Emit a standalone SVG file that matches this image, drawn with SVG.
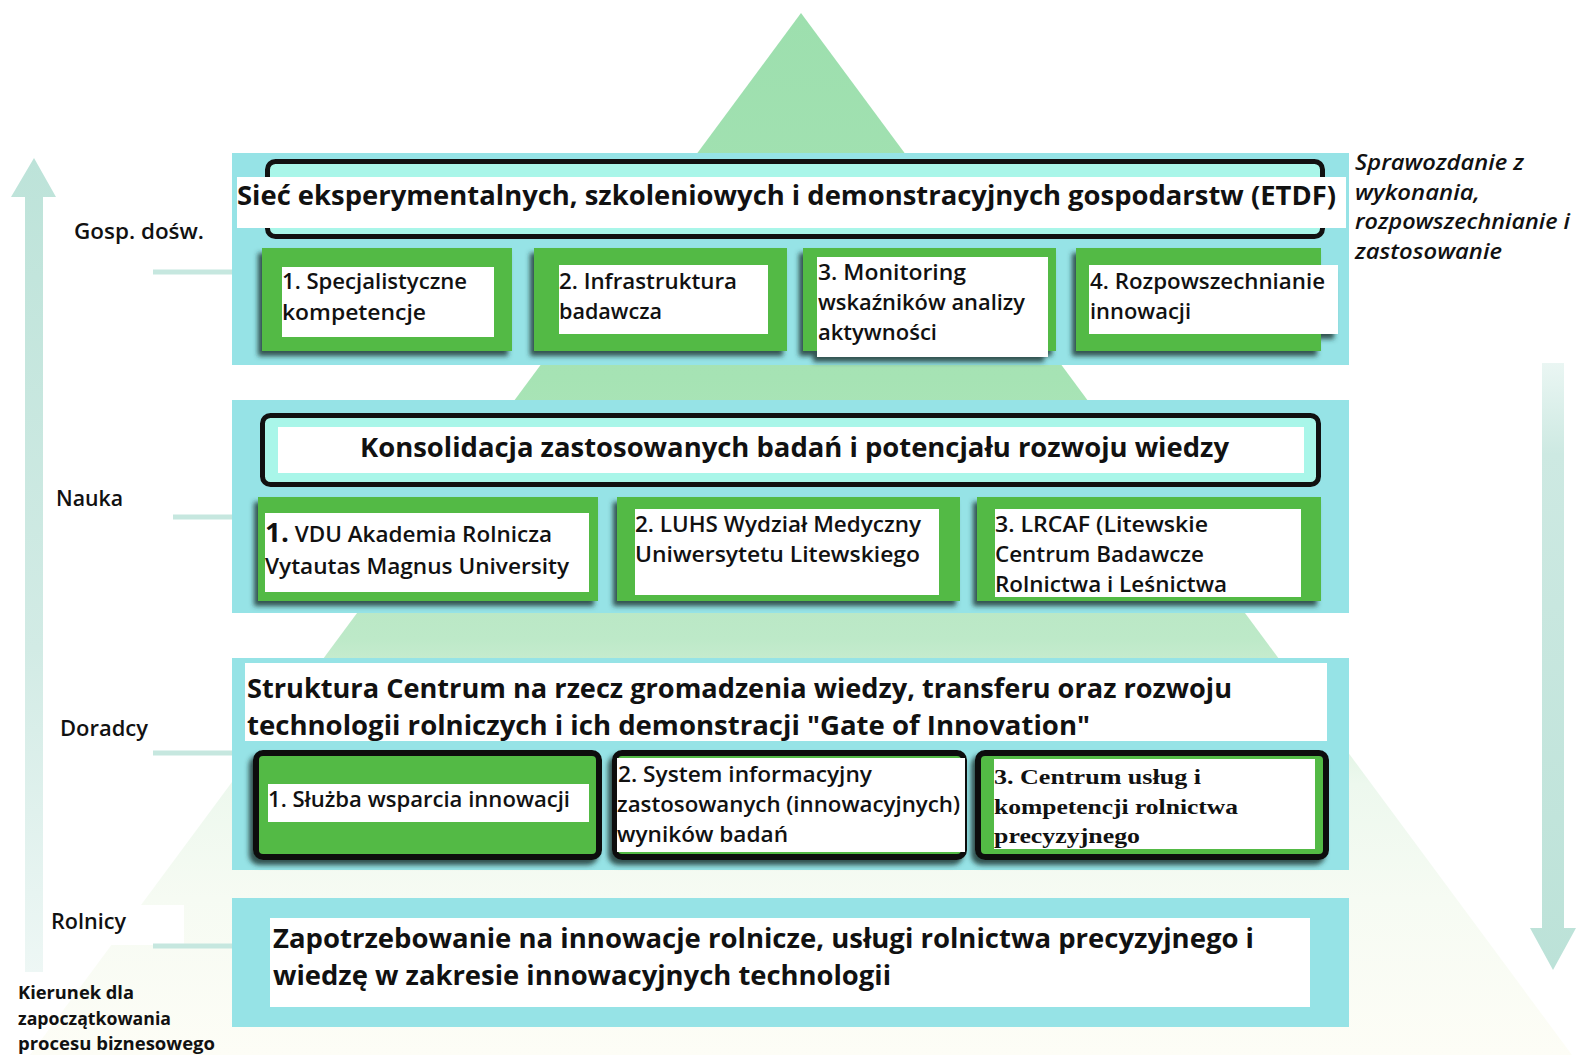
<svg xmlns="http://www.w3.org/2000/svg" width="1579" height="1055" viewBox="0 0 1579 1055">
<defs>
<linearGradient id="pyr" gradientUnits="userSpaceOnUse" x1="0" y1="13" x2="0" y2="1055">
<stop offset="0" stop-color="#9ddfae"/>
<stop offset="0.35" stop-color="#a6e3b4"/>
<stop offset="0.6" stop-color="#bde9c8"/>
<stop offset="0.66" stop-color="#d5f0da"/>
<stop offset="0.74" stop-color="#edf8ee"/>
<stop offset="0.85" stop-color="#f6fbf3"/>
<stop offset="1" stop-color="#fdfdf6"/>
</linearGradient>
<linearGradient id="upArr" gradientUnits="userSpaceOnUse" x1="0" y1="158" x2="0" y2="975">
<stop offset="0" stop-color="#bde3d9"/>
<stop offset="0.6" stop-color="#d2ebe5"/>
<stop offset="1" stop-color="#eef7f5"/>
</linearGradient>
<linearGradient id="dnArr" gradientUnits="userSpaceOnUse" x1="0" y1="363" x2="0" y2="970">
<stop offset="0" stop-color="#eaf6f3"/>
<stop offset="0.15" stop-color="#cde9e2"/>
<stop offset="1" stop-color="#bce2d8"/>
</linearGradient>
<filter id="sh" x="-10%" y="-10%" width="120%" height="130%">
<feDropShadow dx="-4" dy="5" stdDeviation="2.5" flood-color="#1c3a34" flood-opacity="0.85"/>
</filter>
<style>
.band{fill:#96e3e6}
.mint{fill:#a9f6e9;stroke:#111;stroke-width:5}
.green{fill:#52ba45}
.gbox{fill:#52ba45;stroke:#111;stroke-width:6}
.white{fill:#fff}
.conn{stroke:#c6e7df;stroke-width:5;fill:none}
text{font-family:"Open Sans","Noto Sans","Liberation Sans",sans-serif;fill:#111}
.tt{font-size:26px;font-weight:bold}
.tn{font-size:21px;font-weight:600}
.lab{font-size:21px;font-weight:600}
.sm{font-size:17px;font-weight:bold}
.it{font-size:21px;font-style:italic;font-weight:600}
.sr{font-family:"Liberation Serif","Times New Roman",serif;font-size:22px;font-weight:bold}
</style>
</defs>
<rect width="1579" height="1055" fill="#fff"/>
<polygon id="pyramid" points="801,13 1572,1055 30,1055" fill="url(#pyr)"/>

<g id="connectors">
<polygon id="arrow-up" points="34,158 56,197 43,197 43,972 25,972 25,197 11,197" fill="url(#upArr)"/>
<polygon id="arrow-down" points="1542,363 1564,363 1564,928 1576,928 1553,970 1530,928 1542,928" fill="url(#dnArr)"/>
<line class="conn" x1="153" y1="272" x2="232" y2="272"/>
<line class="conn" x1="173" y1="517" x2="232" y2="517"/>
<line class="conn" x1="153" y1="753" x2="232" y2="753"/>
<rect x="46" y="905" width="138" height="40" fill="#fff"/>
<line class="conn" x1="153" y1="946" x2="232" y2="946"/>
</g>

<g id="labels">
<text class="lab" x="74" y="239" textLength="130" lengthAdjust="spacingAndGlyphs">Gosp. dośw.</text>
<text class="lab" x="56" y="506" textLength="67" lengthAdjust="spacingAndGlyphs">Nauka</text>
<text class="lab" x="60" y="736" textLength="88" lengthAdjust="spacingAndGlyphs">Doradcy</text>
<text class="lab" x="51" y="929" textLength="75" lengthAdjust="spacingAndGlyphs">Rolnicy</text>
<text class="sm" x="18" y="999" textLength="116" lengthAdjust="spacingAndGlyphs">Kierunek dla</text>
<text class="sm" x="18" y="1025" textLength="153" lengthAdjust="spacingAndGlyphs">zapoczątkowania</text>
<text class="sm" x="18" y="1050" textLength="197" lengthAdjust="spacingAndGlyphs">procesu biznesowego</text>
<text class="it" x="1355" y="170" textLength="169" lengthAdjust="spacingAndGlyphs">Sprawozdanie z</text>
<text class="it" x="1355" y="200" textLength="125" lengthAdjust="spacingAndGlyphs">wykonania,</text>
<text class="it" x="1355" y="229" textLength="215" lengthAdjust="spacingAndGlyphs">rozpowszechnianie i</text>
<text class="it" x="1355" y="259" textLength="147" lengthAdjust="spacingAndGlyphs">zastosowanie</text>
</g>

<g id="level-gosp">
<rect class="band" x="232" y="153" width="1117" height="212"/>
<g id="etdf">
<rect class="mint" x="267.5" y="161.5" width="1055" height="75" rx="8"/>
<rect class="white" x="237" y="177" width="1109" height="51"/>
<text class="tt" x="237" y="205" textLength="1099" lengthAdjust="spacingAndGlyphs">Sieć eksperymentalnych, szkoleniowych i demonstracyjnych gospodarstw (ETDF)</text>
</g>
<g id="g1" filter="url(#sh)"><rect class="green" x="262" y="248" width="250" height="103"/><rect class="white" x="282" y="267" width="212" height="70"/></g>
<text class="tn" x="282" y="289" textLength="185" lengthAdjust="spacingAndGlyphs">1. Specjalistyczne</text>
<text class="tn" x="282" y="320" textLength="144" lengthAdjust="spacingAndGlyphs">kompetencje</text>
<g id="g2" filter="url(#sh)"><rect class="green" x="534" y="248" width="253" height="103"/><rect class="white" x="559" y="265" width="209" height="69"/></g>
<text class="tn" x="559" y="289" textLength="178" lengthAdjust="spacingAndGlyphs">2. Infrastruktura</text>
<text class="tn" x="559" y="319" textLength="103" lengthAdjust="spacingAndGlyphs">badawcza</text>
<g id="g3" filter="url(#sh)"><rect class="green" x="803" y="248" width="253" height="103"/><rect class="white" x="817" y="257" width="231" height="100"/></g>
<text class="tn" x="818" y="280" textLength="148" lengthAdjust="spacingAndGlyphs">3. Monitoring</text>
<text class="tn" x="818" y="310" textLength="207" lengthAdjust="spacingAndGlyphs">wskaźników analizy</text>
<text class="tn" x="818" y="340" textLength="119" lengthAdjust="spacingAndGlyphs">aktywności</text>
<g id="g4" filter="url(#sh)"><rect class="green" x="1076" y="248" width="245" height="103"/><rect class="white" x="1089" y="265" width="249" height="69"/></g>
<text class="tn" x="1090" y="289" textLength="235" lengthAdjust="spacingAndGlyphs">4. Rozpowszechnianie</text>
<text class="tn" x="1090" y="319" textLength="101" lengthAdjust="spacingAndGlyphs">innowacji</text>
</g>

<g id="level-nauka">
<rect class="band" x="232" y="400" width="1117" height="213"/>
<g id="konsolidacja">
<rect class="mint" x="262.5" y="415.5" width="1056" height="69" rx="8"/>
<rect class="white" x="278" y="427" width="1026" height="46"/>
<text class="tt" x="360" y="457" textLength="869" lengthAdjust="spacingAndGlyphs">Konsolidacja zastosowanych badań i potencjału rozwoju wiedzy</text>
</g>
<g id="n1" filter="url(#sh)"><rect class="green" x="258" y="497" width="340" height="104"/><rect class="white" x="265" y="513" width="324" height="79"/></g>
<text class="tn" x="265" y="542" textLength="287" lengthAdjust="spacingAndGlyphs"><tspan font-weight="bold" font-size="26px">1.</tspan> VDU Akademia Rolnicza</text>
<text class="tn" x="265" y="574" textLength="304" lengthAdjust="spacingAndGlyphs">Vytautas Magnus University</text>
<g id="n2" filter="url(#sh)"><rect class="green" x="617" y="497" width="343" height="104"/><rect class="white" x="635" y="509" width="304" height="86"/></g>
<text class="tn" x="635" y="532" textLength="286" lengthAdjust="spacingAndGlyphs">2. LUHS Wydział Medyczny</text>
<text class="tn" x="635" y="562" textLength="285" lengthAdjust="spacingAndGlyphs">Uniwersytetu Litewskiego</text>
<g id="n3" filter="url(#sh)"><rect class="green" x="977" y="497" width="344" height="104"/><rect class="white" x="995" y="509" width="306" height="88"/></g>
<text class="tn" x="995" y="532" textLength="213" lengthAdjust="spacingAndGlyphs">3. LRCAF (Litewskie</text>
<text class="tn" x="995" y="562" textLength="209" lengthAdjust="spacingAndGlyphs">Centrum Badawcze</text>
<text class="tn" x="995" y="592" textLength="232" lengthAdjust="spacingAndGlyphs">Rolnictwa i Leśnictwa</text>
</g>

<g id="level-doradcy">
<rect class="band" x="232" y="658" width="1117" height="212"/>
<g id="gate">
<rect class="white" x="245" y="663" width="1082" height="78"/>
<text class="tt" x="247" y="698" textLength="985" lengthAdjust="spacingAndGlyphs">Struktura Centrum na rzecz gromadzenia wiedzy, transferu oraz rozwoju</text>
<text class="tt" x="247" y="735" textLength="843" lengthAdjust="spacingAndGlyphs">technologii rolniczych i ich demonstracji "Gate of Innovation"</text>
</g>
<g id="d1" filter="url(#sh)"><rect class="gbox" x="256" y="753" width="343" height="104" rx="7"/><rect class="white" x="268" y="784" width="321" height="38"/></g>
<text class="tn" x="268" y="807" textLength="302" lengthAdjust="spacingAndGlyphs">1. Służba wsparcia innowacji</text>
<g id="d2" filter="url(#sh)"><rect class="gbox" x="615" y="753" width="349" height="104" rx="7"/><rect class="white" x="617" y="758" width="348" height="94"/></g>
<text class="tn" x="618" y="782" textLength="254" lengthAdjust="spacingAndGlyphs">2. System informacyjny</text>
<text class="tn" x="617" y="812" textLength="343" lengthAdjust="spacingAndGlyphs">zastosowanych (innowacyjnych)</text>
<text class="tn" x="617" y="842" textLength="171" lengthAdjust="spacingAndGlyphs">wyników badań</text>
<g id="d3" filter="url(#sh)"><rect class="gbox" x="978" y="753" width="348" height="104" rx="7"/><rect class="white" x="994" y="759" width="321" height="90"/></g>
<text class="sr" x="994" y="784" textLength="207" lengthAdjust="spacingAndGlyphs">3. Centrum usług i</text>
<text class="sr" x="994" y="814" textLength="244" lengthAdjust="spacingAndGlyphs">kompetencji rolnictwa</text>
<text class="sr" x="994" y="843" textLength="146" lengthAdjust="spacingAndGlyphs">precyzyjnego</text>
</g>

<g id="level-rolnicy">
<rect class="band" x="232" y="898" width="1117" height="129"/>
<rect class="white" x="270" y="918" width="1040" height="89"/>
<text class="tt" x="273" y="948" textLength="981" lengthAdjust="spacingAndGlyphs">Zapotrzebowanie na innowacje rolnicze, usługi rolnictwa precyzyjnego i</text>
<text class="tt" x="273" y="985" textLength="618" lengthAdjust="spacingAndGlyphs">wiedzę w zakresie innowacyjnych technologii</text>
</g>
</svg>
